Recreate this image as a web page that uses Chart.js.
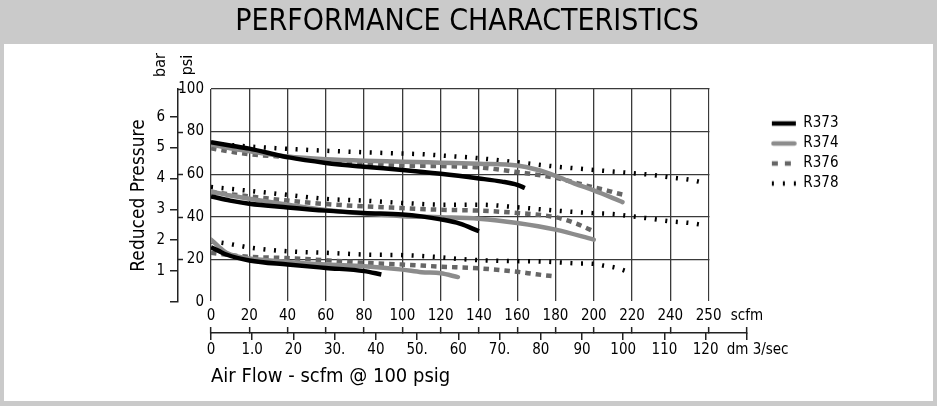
<!DOCTYPE html>
<html>
<head>
<meta charset="utf-8">
<script src="https://cdn.jsdelivr.net/npm/chart.js@4.4.1/dist/chart.umd.min.js"></script>
<style>
html,body{margin:0;padding:0;background:#fff;}
#wrap{width:937px;height:406px;position:relative;}
canvas{display:block;}
</style>
</head>
<body>
<div id="wrap"><canvas id="chart" width="937" height="406"></canvas></div>
<script>
// ---------------- data (scfm flow vs reduced pressure in psi) ----------------
// null separates the three set-pressure curves of each regulator
const seriesNames = ['R373', 'R374', 'R376', 'R378'];

const r373Flow = [0, 10, 20, 40, 60, 80, 100, 120, 140, 152, 160, 164, null,
                  0, 10, 20, 40, 60, 80, 100, 110, 120, 130, 140, null,
                  0, 4, 8, 20, 40, 60, 80, 89];
const r373Psi  = [75, 73.5, 72, 68, 65.3, 63.5, 62, 60.2, 58, 56.5, 55, 53.5, null,
                  49.6, 47.6, 46.1, 44.4, 42.9, 41.8, 41.1, 40.2, 38.8, 36.8, 33.2, null,
                  25.7, 24, 22.3, 19.5, 17.6, 16, 14.5, 12.9];

const r374Flow = [0, 10, 20, 40, 60, 80, 100, 120, 140, 160, 170, 180, 190, 200, 210, 215, null,
                  0, 10, 20, 40, 60, 80, 100, 120, 140, 160, 180, 200, null,
                  0, 4, 8, 15, 20, 40, 60, 80, 100, 110, 120, 129];
const r374Psi  = [74, 72.2, 70.8, 68.3, 67, 66.3, 65.9, 65.4, 64.9, 64.1, 62.2, 59.2, 55.6, 52.4, 48.8, 46.9, null,
                  51.9, 50, 48.5, 45.7, 43.2, 41.5, 40.3, 39.8, 39.1, 37.1, 34, 29.3, null,
                  29.3, 26, 23.1, 21.2, 20.4, 18.8, 17.6, 16.8, 15.2, 14, 13.5, 11.7];

const r376Flow = [0, 10, 20, 40, 60, 80, 100, 120, 140, 160, 180, 200, 206, 211, 217, null,
                  0, 20, 40, 60, 80, 100, 120, 140, 160, 180, 190, 200, null,
                  0, 10, 20, 40, 60, 80, 100, 120, 140, 160, 170, 180];
const r376Psi  = [72.2, 70.6, 69.4, 68, 66.4, 64.8, 64.1, 63.8, 63.2, 61, 58.3, 53.8, 52.6, 51.3, 50.1, null,
                  51.6, 49.6, 47.6, 46, 44.9, 44.1, 43.3, 42.9, 41.8, 39.8, 37.1, 33.2, null,
                  23.1, 22, 21.2, 20.6, 19.6, 18.4, 17.6, 16.6, 15.8, 14.2, 13, 12];

const r378Flow = [0, 10, 20, 40, 60, 80, 100, 110, 120, 140, 160, 180, 200, 220, 230, 240, 250, 256, null,
                  0, 20, 40, 60, 80, 100, 120, 140, 160, 180, 200, 210, 220, 230, 240, 250, 258, null,
                  0, 10, 20, 40, 60, 80, 100, 110, 120, 130, 145, 160, 170, 180, 190, 200, 205, 211, 217];
const r378Psi  = [74.5, 73.7, 73, 71.9, 71, 70.3, 69.7, 69.4, 68.8, 67.5, 65.6, 63.6, 62, 60.5, 59.7, 58.5, 57.4, 56.3, null,
                  54, 52.2, 50.3, 48.4, 47.6, 46.5, 45.7, 45.7, 44.5, 42.9, 41.7, 41.3, 40.2, 39.1, 37.9, 37.1, 36, null,
                  28.5, 27.2, 25.6, 23.8, 23.1, 22.3, 22, 21.6, 21, 20.2, 19.5, 19.2, 19.1, 18.7, 18.2, 17.9, 17.1, 16.2, 14.5];

// axis ticks
const scfmTickValues = [0, 20, 40, 60, 80, 100, 120, 140, 160, 180, 200, 220, 240, 260, 280];
const scfmTickLabels = ['0', '20', '40', '60', '80', '100', '120', '140', '160', '180', '200', '220', '240', '250', 'scfm'];
const dmTickValues = [0, 10, 20, 30, 40, 50, 60, 70, 80, 90, 100, 110, 120, 130];
const dmTickLabels = ['0', '1.0', '20', '30.', '40', '50.', '60', '70.', '80', '90', '100', '110', '120', '     dm 3/sec'];
const psiTickValues = [0, 20, 40, 60, 80, 100];
const barTickValues = [0, 1, 2, 3, 4, 5, 6];
const barTickLabels = ['', '1', '2', '3', '4', '5', '6'];
const PSI_PER_BAR = 14.5;

// ---------------- helpers ----------------
function toPoints(flow, psi) {
  const pts = [];
  let last = 0;
  for (let i = 0; i < flow.length; i++) {
    if (flow[i] === null) { pts.push({x: last, y: null}); continue; }
    last = flow[i];
    pts.push({x: flow[i], y: psi[i]});
  }
  return pts;
}

const FONT = "'DejaVu Sans Condensed','Liberation Sans Narrow','Arial Narrow',sans-serif";
Chart.defaults.font.family = FONT;
Chart.defaults.color = '#000';

const GRID = '#3a3a3a';
const TICK_FONT = {size: 15};
const lineStyles = [
  {color: '#000000', width: 4.5, dash: [], cap: 'butt'},
  {color: '#8c8c8c', width: 4.5, dash: [], cap: 'round'},
  {color: '#666666', width: 4.5, dash: [5.5, 5], cap: 'butt'},
  {color: '#000000', width: 4.5, dash: [2, 8.6], cap: 'butt'}
];
const legendDash = [[], [], [6, 7], [2, 9]];

function legendSample(i) {
  const st = lineStyles[i];
  const cv = document.createElement('canvas');
  cv.width = 26; cv.height = 8;
  const g = cv.getContext('2d');
  g.strokeStyle = st.color;
  g.lineWidth = st.width;
  g.lineCap = st.cap;
  g.setLineDash(legendDash[i]);
  g.beginPath();
  const inset = st.cap === 'round' ? 2.5 : 1;
  g.moveTo(inset, 4);
  g.lineTo(26 - inset, 4);
  g.stroke();
  return cv;
}

const flows = [r373Flow, r374Flow, r376Flow, r378Flow];
const psis = [r373Psi, r374Psi, r376Psi, r378Psi];

const datasets = seriesNames.map((name, i) => ({
  label: name,
  data: toPoints(flows[i], psis[i]),
  borderColor: lineStyles[i].color,
  backgroundColor: lineStyles[i].color,
  borderWidth: lineStyles[i].width,
  borderDash: lineStyles[i].dash,
  borderCapStyle: lineStyles[i].cap,
  pointRadius: 0,
  pointHoverRadius: 0,
  pointStyle: legendSample(i),
  cubicInterpolationMode: 'monotone',
  spanGaps: false,
  fill: false,
  xAxisID: 'x',
  yAxisID: 'y'
}));

const extras = {
  id: 'extras',
  beforeDraw(chart) {
    const c = chart.ctx;
    c.save();
    c.fillStyle = '#cacaca';
    c.fillRect(0, 0, chart.width, chart.height);
    c.fillStyle = '#ffffff';
    c.fillRect(4, 44, chart.width - 8, chart.height - 44 - 5);
    c.restore();
  },
  beforeDatasetsDraw(chart) {
    // plot frame stops at the 250 line; the axis continues to the unit label
    const xs = chart.scales.x, a = chart.chartArea;
    const x0 = xs.getPixelForValue(260) + 0.9;
    const c = chart.ctx;
    c.save();
    c.fillStyle = '#ffffff';
    c.fillRect(x0, a.top - 2, a.right - x0 + 2, a.bottom - a.top + 3);
    c.restore();
  },
  afterDraw(chart) {
    const c = chart.ctx;
    const ys = chart.scales.y, yb = chart.scales.ybar;
    const lx = yb.right;
    c.save();
    c.strokeStyle = '#222';
    c.lineWidth = 1.5;
    c.beginPath();
    psiTickValues.forEach(v => {
      if (v === 0) return;
      const py = Math.round(ys.getPixelForValue(v)) + 0.5;
      const len = v === 100 ? 4 : 5;
      c.moveTo(lx, py);
      c.lineTo(lx + len, py);
    });
    c.stroke();
    c.fillStyle = '#000';
    c.font = '16px ' + FONT;
    c.textAlign = 'center';
    c.textBaseline = 'middle';
    [['bar', lx - 17], ['psi', lx + 10]].forEach(([t, x]) => {
      c.save();
      c.translate(x, 65);
      c.rotate(-Math.PI / 2);
      c.fillText(t, 0, 0);
      c.restore();
    });
    c.restore();
  }
};

new Chart(document.getElementById('chart'), {
  type: 'line',
  data: {datasets},
  plugins: [extras],
  options: {
    responsive: false,
    animation: false,
    devicePixelRatio: 1,
    events: [],
    layout: {padding: {left: 4, right: 7, top: 0, bottom: 6}},
    plugins: {
      title: {
        display: true,
        text: 'PERFORMANCE CHARACTERISTICS',
        color: '#000',
        font: {size: 30, weight: 'normal'},
        padding: {top: 4, bottom: 49}
      },
      legend: {
        position: 'right',
        align: 'start',
        fullSize: false,
        title: {display: true, text: ' ', font: {size: 10}, padding: {top: 10, bottom: 0}},
        labels: {
          usePointStyle: true,
          pointStyleWidth: 24,
          padding: 5,
          color: '#000',
          font: {size: 15}
        }
      },
      tooltip: {enabled: false}
    },
    scales: {
      xgap: {
        type: 'linear', position: 'bottom', weight: 0, min: 0, max: 1,
        ticks: {display: false}, grid: {display: false}, border: {display: false},
        afterFit: s => { s.height = 31; }
      },
      x: {
        type: 'linear', position: 'bottom', weight: 1, min: 0, max: 280,
        afterBuildTicks: s => { s.ticks = scfmTickValues.map(v => ({value: v})); },
        ticks: {
          mirror: true, padding: 8, autoSkip: false, maxRotation: 0, color: '#000',
          font: TICK_FONT,
          callback: (v, i) => scfmTickLabels[i]
        },
        grid: {
          color: c => (c.tick && c.tick.value > 260) ? 'rgba(0,0,0,0)' : GRID,
          tickColor: '#222', lineWidth: 1.3, tickWidth: 1.5, tickLength: -6, drawTicks: true
        },
        border: {display: true, color: '#222', width: 1.5},
        afterFit: s => { s.height = 0; }
      },
      xdm: {
        type: 'linear', position: 'bottom', weight: 2, min: 0, max: 130,
        afterBuildTicks: s => { s.ticks = dmTickValues.map(v => ({value: v})); },
        ticks: {
          padding: 1, autoSkip: false, maxRotation: 0, color: '#000',
          font: TICK_FONT,
          callback: (v, i) => dmTickLabels[i]
        },
        grid: {drawOnChartArea: false, tickLength: 7, color: '#222', lineWidth: 1.5},
        border: {display: false},
        title: {
          display: true, text: 'Air Flow - scfm @ 100 psig', align: 'start', color: '#000',
          font: {size: 20}, padding: {top: 0, bottom: 11}
        },
        afterFit: s => { s.height = 67; }
      },
      y: {
        type: 'linear', position: 'left', weight: 0, min: 0, max: 100,
        afterBuildTicks: s => { s.ticks = psiTickValues.map(v => ({value: v})); },
        ticks: {padding: 7, color: '#000', font: TICK_FONT},
        grid: {
          drawTicks: false, lineWidth: 1.3,
          color: c => (c.tick && c.tick.value === 0) ? 'rgba(0,0,0,0)' : GRID
        },
        border: {display: false},
        afterFit: s => { s.width = 33; }
      },
      ybar: {
        type: 'linear', position: 'left', weight: 1, min: 0, max: 100 / PSI_PER_BAR,
        afterBuildTicks: s => { s.ticks = barTickValues.map(v => ({value: v})); },
        ticks: {padding: 5, color: '#000', font: TICK_FONT, callback: (v, i) => barTickLabels[i]},
        grid: {drawOnChartArea: false, tickLength: 8, color: '#222', lineWidth: 1.5},
        border: {display: true, color: '#222', width: 1.5},
        title: {
          display: true, text: 'Reduced Pressure', color: '#000',
          font: {size: 19}, padding: {top: 123.6, bottom: 0}
        },
        afterFit: s => { s.width = 174; }
      },
      yspacer: {
        type: 'linear', position: 'right', weight: 0,
        ticks: {display: false}, grid: {display: false}, border: {display: false},
        afterFit: s => { s.width = 20; }
      },
      yspacer2: {
        type: 'linear', position: 'right', weight: 2000,
        ticks: {display: false}, grid: {display: false}, border: {display: false},
        afterFit: s => { s.width = 81.5; }
      }
    }
  }
});
</script>
</body>
</html>
